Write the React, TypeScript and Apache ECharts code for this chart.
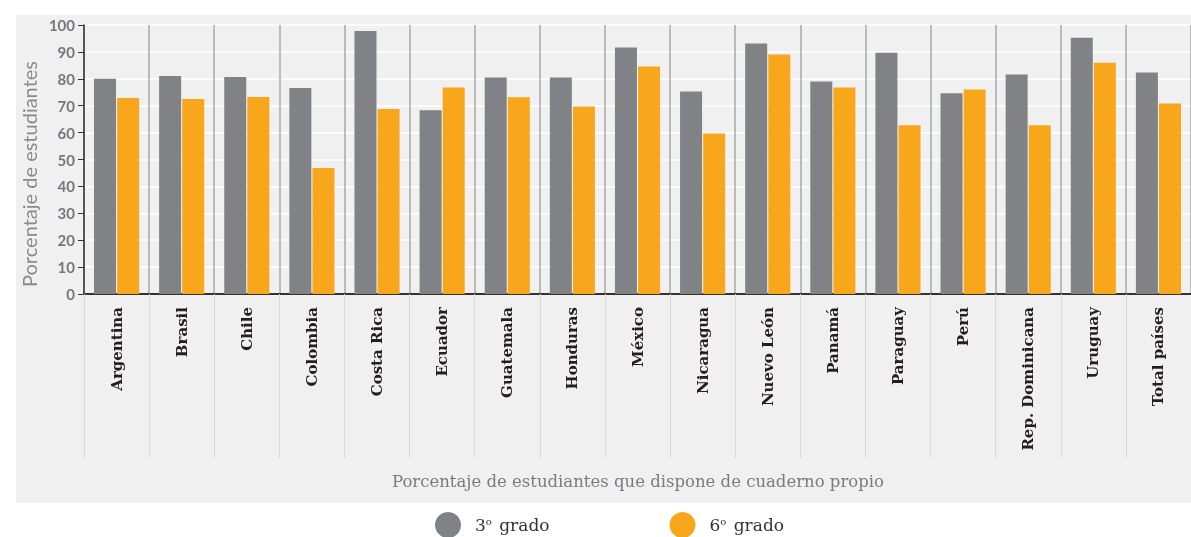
import React, { useEffect, useRef } from "react";
import * as echarts from "echarts";

const categories = [
  "Argentina", "Brasil", "Chile", "Colombia", "Costa Rica", "Ecuador", "Guatemala",
  "Honduras", "México", "Nicaragua", "Nuevo León", "Panamá", "Paraguay", "Perú",
  "Rep. Dominicana", "Uruguay", "Total países",
];
const grado3 = [80, 81, 80.7, 76.6, 97.8, 68.3, 80.5, 80.5, 91.6, 75.3, 93.1, 79.0, 89.7, 74.6, 81.6, 95.3, 82.3];
const grado6 = [72.9, 72.5, 73.2, 46.8, 68.8, 76.8, 73.1, 69.7, 84.6, 59.7, 89.0, 76.8, 62.7, 76.0, 62.7, 86.0, 70.8];
const yTicks = { min: 0, max: 100, interval: 10 };
const seriesNames = ["3º grado", "6º grado"];
const yAxisTitle = "Porcentaje de estudiantes";
const xAxisTitle = "Porcentaje de estudiantes que dispone de cuaderno propio";

export default function App() {
  const ref = useRef<HTMLDivElement>(null);
  useEffect(() => {
    if (!ref.current) return;
    const chart = echarts.init(ref.current, null, { renderer: "svg" });
    chart.setOption({
      animation: false,
      graphic: [
        { type: "rect", z: -10, silent: true, shape: { x: 16, y: 15, width: 1175, height: 488 }, style: { fill: "#f0f0f0" } },
        {
          type: "text", x: 29, y: 174, rotation: Math.PI / 2,
          style: { text: yAxisTitle, fill: "#8a8a8c", font: "20px Lato", align: "center", verticalAlign: "middle" },
        },
        {
          type: "text", x: 638, y: 481,
          style: { text: xAxisTitle, fill: "#7a7b7e", font: "16.5px 'DejaVu Serif'", align: "center", verticalAlign: "middle" },
        },
      ],
      legend: {
        left: 435,
        top: 512,
        padding: 0,
        itemWidth: 26,
        itemHeight: 26,
        itemGap: 120,
        icon: "circle",
        data: seriesNames,
        formatter: (name: string) => name.replace("º", "{sup|o}"),
        textStyle: {
          fontFamily: "DejaVu Serif",
          fontSize: 17,
          color: "#333",
          padding: [0, 0, 0, 9],
          rich: {
            sup: { fontFamily: "DejaVu Serif", fontSize: 10, color: "#333", verticalAlign: "top", padding: [0, 2, 8, 0] },
          },
        },
      },
      grid: { left: 84, right: 0, top: 25, bottom: 243 },
      xAxis: {
        type: "category",
        data: categories,
        axisLine: { lineStyle: { color: "#333", width: 2 } },
        axisTick: { show: true, length: 164, lineStyle: { color: "#d9d9d9", width: 1 } },
        splitLine: { show: true, lineStyle: { color: "#a8a8a8", width: 1.5 } },
        axisLabel: {
          interval: 0,
          rotate: 90,
          margin: 13,
          fontFamily: "DejaVu Serif",
          fontWeight: "bold",
          fontSize: 15,
          color: "#231f20",
        },
      },
      yAxis: {
        type: "value",
        min: yTicks.min,
        max: yTicks.max,
        interval: yTicks.interval,
        axisLine: { show: true, lineStyle: { color: "#333", width: 1.5 } },
        axisTick: { show: true, length: 6, lineStyle: { color: "#333" } },
        splitLine: { show: true, lineStyle: { color: "#ffffff", width: 1.5 } },
        axisLabel: { margin: 9, fontFamily: "Lato", fontWeight: "bold", fontSize: 15, color: "#76777a" },
      },
      series: [
        { name: seriesNames[0], type: "bar", data: grado3, barWidth: 22, barGap: "5%", itemStyle: { color: "#818286" } },
        { name: seriesNames[1], type: "bar", data: grado6, barWidth: 22, barGap: "5%", itemStyle: { color: "#f8a61c" } },
      ],
    });
    return () => chart.dispose();
  }, []);
  return <div ref={ref} style={{ position: "fixed", left: 0, top: 0, width: 1191, height: 537 }} />;
}
